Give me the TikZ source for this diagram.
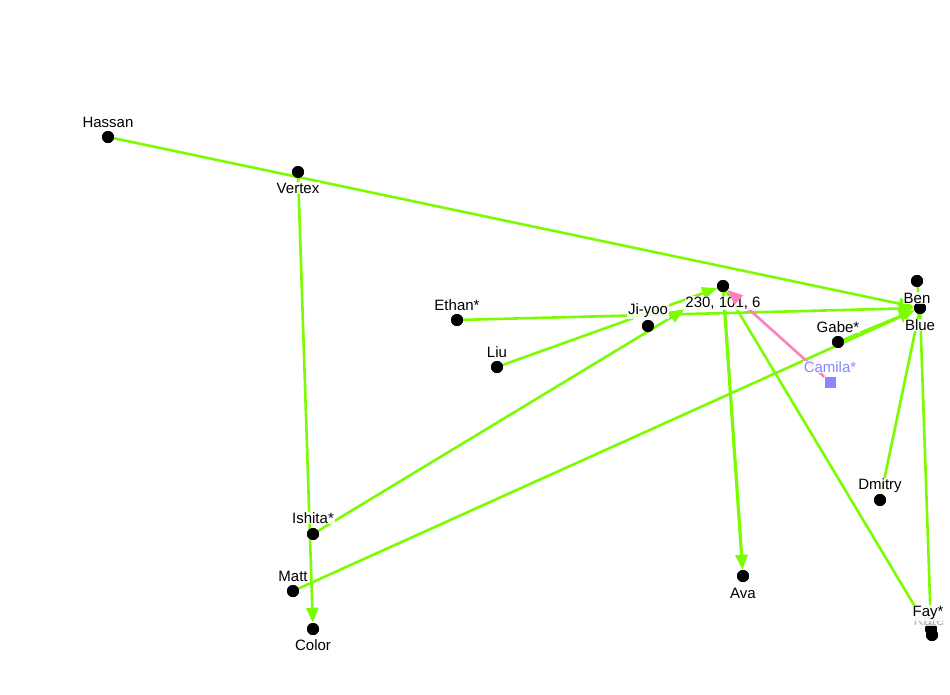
\documentclass[tikz,border=0pt]{standalone}
\usepackage{fontspec}
\setmainfont{Liberation Sans}
\usetikzlibrary{arrows.meta}
\definecolor{lgreen}{RGB}{124,252,0}
\definecolor{pinkedge}{RGB}{255,128,192}
\definecolor{camblue}{RGB}{136,136,255}
\begin{document}
\begin{tikzpicture}[x=1pt,y=-1pt,
  dot/.style={circle,fill=black,inner sep=0pt,minimum size=12pt},
  sq/.style={rectangle,fill=camblue,inner sep=0pt,minimum size=11pt},
  lab/.style={font=\fontsize{15}{17}\selectfont,fill=white,fill opacity=0.85,text opacity=1,inner sep=0.8pt},
  edge/.style={draw=lgreen,line width=2.6pt},
  arr/.style={edge,-{Triangle[length=15pt,width=12pt]}},
  pinkarr/.style={draw=pinkedge,line width=2.6pt,-{Triangle[length=15pt,width=12pt]}}]
\useasboundingbox[fill=white] (0,0) rectangle (950,694);
% dots
\node[dot] (hassan) at (108,137) {};
\node[dot] (vertex) at (298,172) {};
\node[dot] (ethan) at (457,320) {};
\node[dot] (liu) at (497,367) {};
\node[dot] (jiyoo) at (648,326) {};
\node[dot] (rgb) at (723,286) {};
\node[dot] (ben) at (917,281) {};
\node[dot] (blue) at (920,308) {};
\node[dot] (gabe) at (838,342) {};
\node[sq] (camila) at (830,382) {};
\node[dot] (dmitry) at (880,500) {};
\node[dot] (ava) at (743,576) {};
\node[dot] (ishita) at (313,534) {};
\node[dot] (matt) at (293,591) {};
\node[dot] (color) at (313,629) {};
\node[dot] (kate) at (932,635) {};
\node[dot] (fay) at (931,629) {};
% edges
\draw[arr] (hassan) -- (blue);
\draw[arr] (vertex) -- (color);
\draw[arr] (ethan) -- (blue);
\draw[arr] (liu) -- (rgb);
\draw[arr,shorten >=39pt] (ishita) -- (rgb);
\draw[arr] (matt) -- (blue);
\draw[arr] (gabe) -- (blue);
\draw[arr,line width=3.2pt] (rgb) -- (ava);
\draw[edge] (rgb) -- (kate);
\draw[edge] (blue) -- (fay);
\draw[edge] (blue) -- (dmitry);
\draw[edge] (ben) -- (blue);
\draw[pinkarr] (camila) -- (rgb);
% redraw dots on top
\foreach \n in {hassan,vertex,ethan,liu,jiyoo,rgb,ben,blue,gabe,dmitry,ava,ishita,matt,color,kate,fay}
  \node[dot] at (\n) {};
\node[sq] at (camila) {};
% labels
\node[lab] (lhassan) at (108,122) {Hassan};
\node[lab] (lvertex) at (298,188) {Vertex};
\node[lab] (lethan) at (457,305) {Ethan*};
\node[lab] (lliu) at (497,352) {Liu};
\node[lab] (ljiyoo) at (648,311) {Ji-yoo};
\node[lab] (lrgb) at (723,303) {230, 101, 6};
\node[lab] (lben) at (917,298) {Ben};
\node[lab] (lblue) at (920,325) {Blue};
\node[lab] (lgabe) at (838,327) {Gabe*};
\node[lab,text=camblue] (lcamila) at (830,367) {Camila*};
\node[lab] (ldmitry) at (880,486) {Dmitry};
\node[lab] (lava) at (743,593) {Ava};
\node[lab] (lishita) at (313,518) {Ishita*};
\node[lab] (lmatt) at (293,576) {Matt};
\node[lab] (lcolor) at (313,645) {Color};
\node[lab,text=black!30] (lkate) at (929,620) {Kate};
\node[lab] (lfay) at (928,613) {Fay*};
% pink arrowhead shown above the label halo
\draw[pinkarr,shorten <=118pt] (camila) -- (rgb);
\end{tikzpicture}
\end{document}
